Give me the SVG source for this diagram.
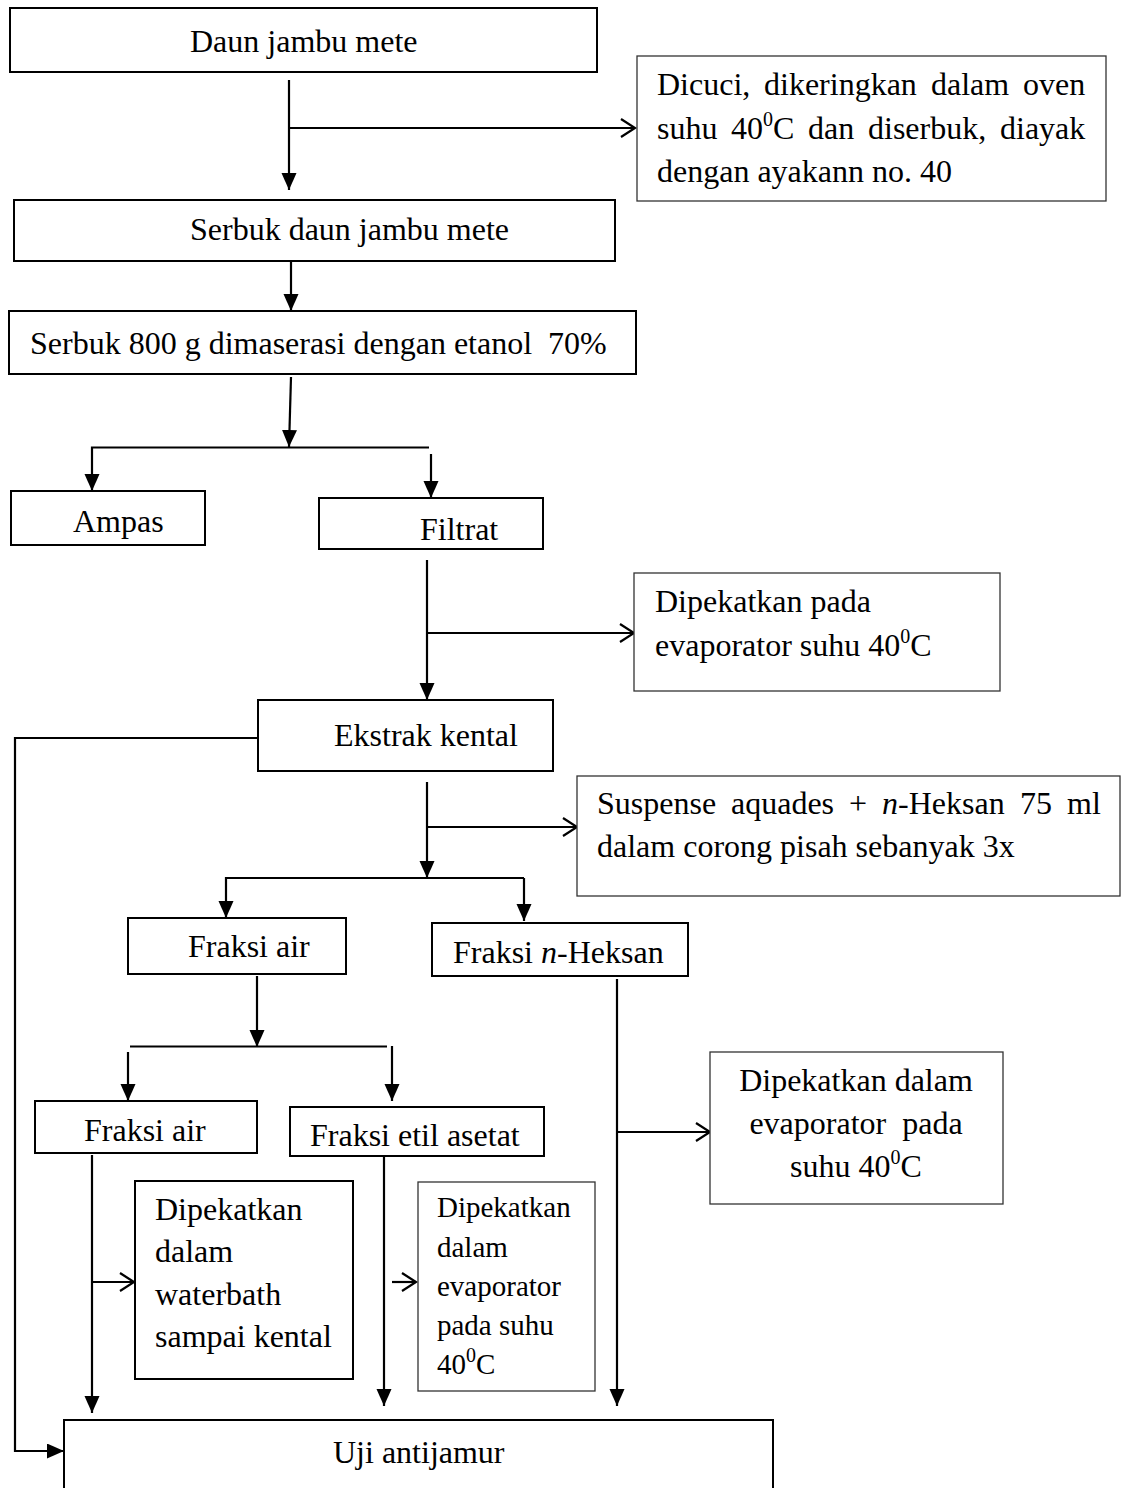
<svg xmlns="http://www.w3.org/2000/svg" width="1121" height="1488" viewBox="0 0 1121 1488">
<style>
.box{fill:#fff;stroke:#000;stroke-width:2}
.sbox{fill:#fff;stroke:#333;stroke-width:1.3}
.t{font-family:"Liberation Serif","Times New Roman",serif;font-size:32px;fill:#000}
.ts{font-family:"Liberation Serif","Times New Roman",serif;font-size:29px;fill:#000}
.c{fill:none;stroke:#000;stroke-width:2.2}
.sup{font-size:20px}
</style>
<defs>
<marker id="fa" markerUnits="userSpaceOnUse" markerWidth="18" markerHeight="16" refX="17" refY="7.5" orient="auto">
<path d="M0,0 L17,7.5 L0,15 Z" fill="#000"/>
</marker>
<marker id="oa" markerUnits="userSpaceOnUse" markerWidth="18" markerHeight="22" refX="15" refY="10" orient="auto">
<path d="M1,1 L15,10 L1,19" fill="none" stroke="#000" stroke-width="2.2"/>
</marker>
</defs>
<g id="connectors">
<line class="c" x1="289" y1="80" x2="289" y2="190" marker-end="url(#fa)"/>
<line class="c" x1="290" y1="128" x2="635" y2="128" marker-end="url(#oa)"/>
<line class="c" x1="291" y1="262" x2="291" y2="311" marker-end="url(#fa)"/>
<line class="c" x1="291" y1="377" x2="289" y2="447" marker-end="url(#fa)"/>
<polyline class="c" points="429,447.5 92,447.5 92,491" marker-end="url(#fa)"/>
<line class="c" x1="431" y1="454" x2="431" y2="498" marker-end="url(#fa)"/>
<line class="c" x1="427" y1="560" x2="427" y2="700" marker-end="url(#fa)"/>
<line class="c" x1="428" y1="633" x2="634" y2="633" marker-end="url(#oa)"/>
<polyline class="c" points="257,738 15,738 15,1451 64,1451" marker-end="url(#fa)"/>
<line class="c" x1="427" y1="782" x2="427" y2="878" marker-end="url(#fa)"/>
<line class="c" x1="428" y1="827" x2="577" y2="827" marker-end="url(#oa)"/>
<polyline class="c" points="524,878 226,878 226,918" marker-end="url(#fa)"/>
<line class="c" x1="524" y1="878" x2="524" y2="921" marker-end="url(#fa)"/>
<line class="c" x1="257" y1="976" x2="257" y2="1047" marker-end="url(#fa)"/>
<line class="c" x1="130" y1="1046.5" x2="387" y2="1046.5"/>
<line class="c" x1="128" y1="1052" x2="128" y2="1101" marker-end="url(#fa)"/>
<line class="c" x1="392" y1="1046" x2="392" y2="1101" marker-end="url(#fa)"/>
<line class="c" x1="92" y1="1155" x2="92" y2="1413" marker-end="url(#fa)"/>
<line class="c" x1="93" y1="1282" x2="134" y2="1282" marker-end="url(#oa)"/>
<line class="c" x1="384" y1="1157" x2="384" y2="1406" marker-end="url(#fa)"/>
<line class="c" x1="392" y1="1282" x2="416" y2="1282" marker-end="url(#oa)"/>
<line class="c" x1="617" y1="979" x2="617" y2="1406" marker-end="url(#fa)"/>
<line class="c" x1="618" y1="1132" x2="710" y2="1132" marker-end="url(#oa)"/>
</g>
<g id="n1"><rect class="box" x="10" y="8" width="587" height="64"/><text class="t" x="190" y="52">Daun jambu mete</text></g>
<g id="n2"><rect class="sbox" x="637" y="56" width="469" height="145"/>
<text class="t" y="95"><tspan x="657">Dicuci,</tspan><tspan x="764">dikeringkan</tspan><tspan x="931">dalam</tspan><tspan x="1023">oven</tspan></text>
<text class="t" y="139"><tspan x="657">suhu</tspan><tspan x="731">40</tspan><tspan class="sup" dy="-13">0</tspan><tspan dy="13">C</tspan><tspan x="808">dan</tspan><tspan x="868">diserbuk,</tspan><tspan x="1000">diayak</tspan></text>
<text class="t" x="657" y="182">dengan ayakann no. 40</text></g>
<g id="n3"><rect class="box" x="14" y="200" width="601" height="61"/><text class="t" x="190" y="240">Serbuk daun jambu mete</text></g>
<g id="n4"><rect class="box" x="9" y="311" width="627" height="63"/><text class="t" x="30" y="354" xml:space="preserve">Serbuk 800 g dimaserasi dengan etanol  70%</text></g>
<g id="n5"><rect class="box" x="11" y="491" width="194" height="54"/><text class="t" x="73" y="532">Ampas</text></g>
<g id="n6"><rect class="box" x="319" y="498" width="224" height="51"/><text class="t" x="420" y="540">Filtrat</text></g>
<g id="n7"><rect class="sbox" x="634" y="573" width="366" height="118"/>
<text class="t" x="655" y="612">Dipekatkan pada</text>
<text class="t" x="655" y="656">evaporator suhu 40<tspan class="sup" dy="-13">0</tspan><tspan dy="13">C</tspan></text></g>
<g id="n8"><rect class="box" x="258" y="700" width="295" height="71"/><text class="t" x="334" y="746">Ekstrak kental</text></g>
<g id="n9"><rect class="sbox" x="577" y="776" width="543" height="120"/>
<text class="t" y="814"><tspan x="597">Suspense</tspan><tspan x="731">aquades</tspan><tspan x="849">+</tspan><tspan x="882" font-style="italic">n</tspan><tspan>-Heksan</tspan><tspan x="1020">75</tspan><tspan x="1067">ml</tspan></text>
<text class="t" x="597" y="857">dalam corong pisah sebanyak 3x</text></g>
<g id="n10"><rect class="box" x="128" y="918" width="218" height="56"/><text class="t" x="188" y="957">Fraksi air</text></g>
<g id="n11"><rect class="box" x="432" y="923" width="256" height="53"/><text class="t" x="453" y="963">Fraksi <tspan font-style="italic">n</tspan>-Heksan</text></g>
<g id="n12"><rect class="box" x="35" y="1101" width="222" height="52"/><text class="t" x="84" y="1141">Fraksi air</text></g>
<g id="n13"><rect class="box" x="290" y="1107" width="254" height="49"/><text class="t" x="310" y="1146">Fraksi etil asetat</text></g>
<g id="n14"><rect class="sbox" x="710" y="1052" width="293" height="152"/>
<text class="t" text-anchor="middle" x="856" y="1091">Dipekatkan dalam</text>
<text class="t" text-anchor="middle" x="856" y="1134" xml:space="preserve">evaporator  pada</text>
<text class="t" text-anchor="middle" x="856" y="1177">suhu 40<tspan class="sup" dy="-13">0</tspan><tspan dy="13">C</tspan></text></g>
<g id="n15"><rect class="box" x="135" y="1181" width="218" height="198"/>
<text class="t" x="155" y="1220">Dipekatkan</text>
<text class="t" x="155" y="1262">dalam</text>
<text class="t" x="155" y="1305">waterbath</text>
<text class="t" x="155" y="1347">sampai kental</text></g>
<g id="n16"><rect class="sbox" x="418" y="1182" width="177" height="209"/>
<text class="ts" x="437" y="1217">Dipekatkan</text>
<text class="ts" x="437" y="1257">dalam</text>
<text class="ts" x="437" y="1296">evaporator</text>
<text class="ts" x="437" y="1335">pada suhu</text>
<text class="ts" x="437" y="1374">40<tspan class="sup" dy="-12">0</tspan><tspan dy="12">C</tspan></text></g>
<g id="n17"><rect class="box" x="64" y="1420" width="709" height="80"/><text class="t" x="333" y="1463">Uji antijamur</text></g>
</svg>
